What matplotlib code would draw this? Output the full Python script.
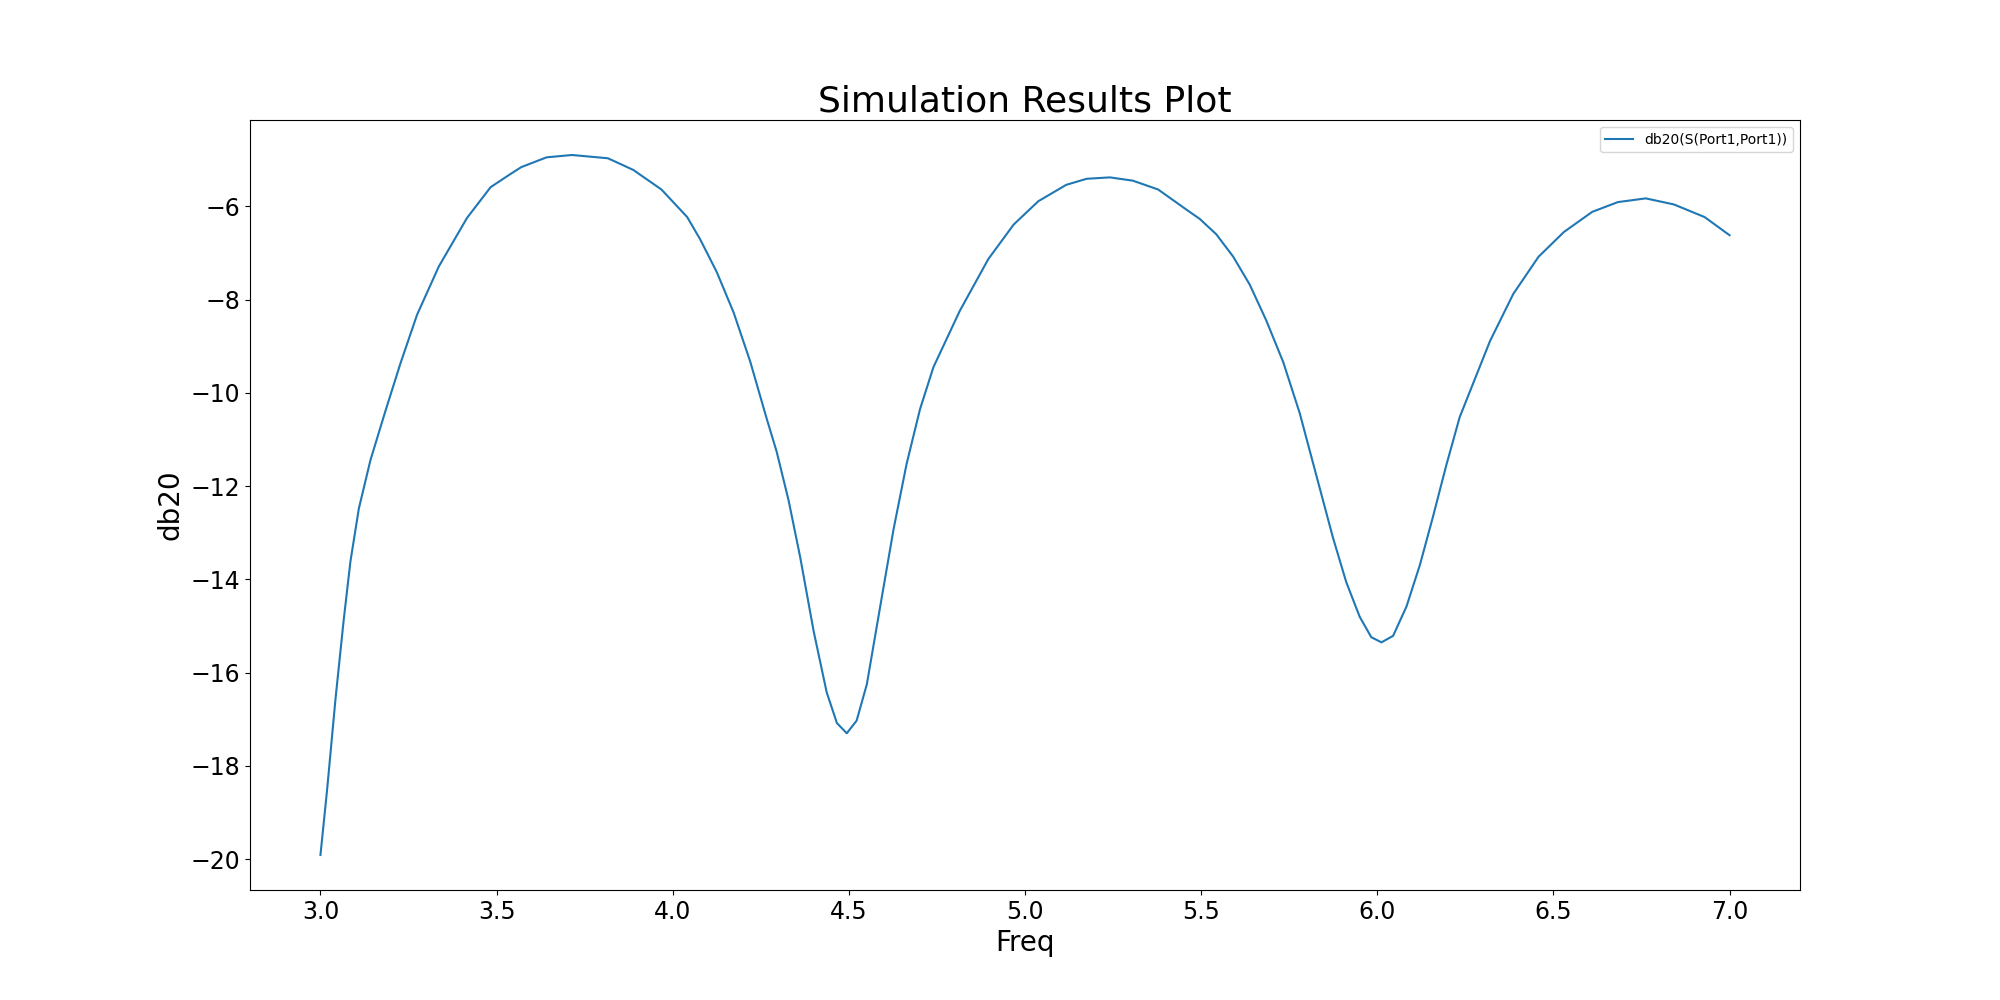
import matplotlib
matplotlib.use("Agg")
import matplotlib.pyplot as plt

freq = [3.000, 3.019, 3.043, 3.066, 3.085, 3.109, 3.142, 3.184, 3.227, 3.274,
        3.336, 3.416, 3.483, 3.539, 3.570, 3.642, 3.714, 3.816, 3.888, 3.968,
        4.041, 4.078, 4.125, 4.173, 4.220, 4.267, 4.295, 4.329, 4.362, 4.400,
        4.437, 4.466, 4.494, 4.522, 4.551, 4.589, 4.627, 4.664, 4.702, 4.740,
        4.815, 4.896, 4.968, 5.038, 5.117, 5.175, 5.241, 5.306, 5.378, 5.458,
        5.496, 5.543, 5.591, 5.638, 5.685, 5.733, 5.780, 5.827, 5.874, 5.912,
        5.950, 5.983, 6.012, 6.045, 6.083, 6.121, 6.158, 6.196, 6.234, 6.320,
        6.386, 6.458, 6.530, 6.610, 6.683, 6.762, 6.842, 6.929, 7.000]
db20 = [-19.91, -18.50, -16.54, -14.87, -13.62, -12.48, -11.44, -10.40, -9.37, -8.33,
        -7.29, -6.25, -5.59, -5.31, -5.16, -4.95, -4.90, -4.97, -5.22, -5.64,
        -6.23, -6.71, -7.41, -8.28, -9.33, -10.56, -11.26, -12.31, -13.53, -15.11,
        -16.42, -17.08, -17.30, -17.03, -16.25, -14.58, -12.92, -11.52, -10.35, -9.45,
        -8.24, -7.13, -6.39, -5.89, -5.54, -5.41, -5.38, -5.45, -5.64, -6.07,
        -6.27, -6.60, -7.08, -7.68, -8.45, -9.34, -10.44, -11.77, -13.10, -14.06,
        -14.80, -15.24, -15.35, -15.21, -14.58, -13.69, -12.66, -11.55, -10.52, -8.89,
        -7.88, -7.08, -6.55, -6.12, -5.91, -5.83, -5.96, -6.23, -6.62]

fig, ax = plt.subplots(figsize=(20, 10), dpi=100)
ax.plot(freq, db20, label="db20(S(Port1,Port1))", linewidth=1.5)
ax.set_title("Simulation Results Plot", fontsize=26)
ax.set_xlabel("Freq", fontsize=20)
ax.set_ylabel("db20", fontsize=20)
ax.tick_params(axis="both", labelsize=17)
ax.legend(loc="upper right", fontsize=10)
fig.savefig("out.png", dpi=100)
